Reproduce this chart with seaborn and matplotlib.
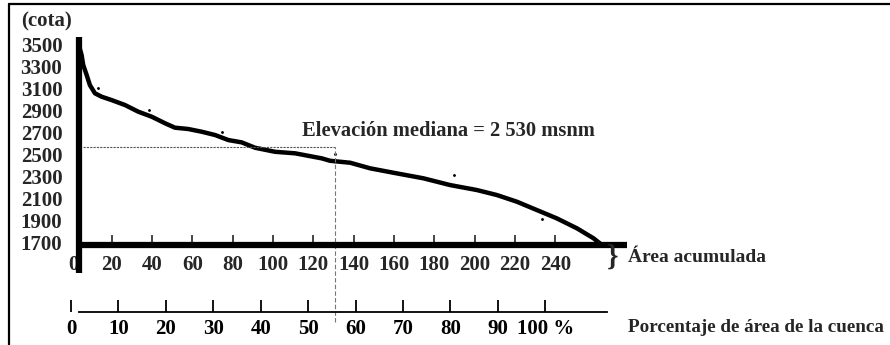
import pandas as pd
import seaborn as sns
import matplotlib.pyplot as plt
from matplotlib.lines import Line2D

# Hypsometric curve: accumulated area vs elevation (cota)
area_acum = [4.3, 5.1, 5.9, 7.6, 9.2, 11.7, 15.0, 20.0, 26.6, 33.2, 39.9, 46.5, 51.4,
             58.0, 64.7, 71.3, 77.9, 84.5, 91.1, 101.0, 111.0, 124.2, 128.3, 138.3,
             148.2, 161.4, 174.6, 187.9, 201.1, 211.1, 221.0, 230.9, 240.8, 250.8,
             259.0, 263.2]
cota = [3460, 3407, 3316, 3225, 3133, 3058, 3027, 2996, 2951, 2890, 2844, 2784, 2744,
        2732, 2707, 2677, 2631, 2610, 2561, 2524, 2510, 2464, 2442, 2424,
        2373, 2327, 2282, 2220, 2175, 2129, 2068, 1992, 1916, 1825,
        1734, 1673]

# loose dots in the scanned figure
dots_area = [13.3, 38.5, 74.6, 130.8, 190.0, 233.4]
dots_cota = [3109, 2905, 2707, 2508, 2312, 1910]

median_area = 130.8
median_cota = 2570

cota_ticks = [1700, 1900, 2100, 2300, 2500, 2700, 2900, 3100, 3300, 3500]
area_ticks = [20, 40, 60, 80, 100, 120, 140, 160, 180, 200, 220, 240]
pct_ticks = [0, 10, 20, 30, 40, 50, 60, 70, 80, 90, 100]
pct_labels = ["0", "10", "20", "30", "40", "50", "60", "70", "80", "90", "100 %"]

df = pd.DataFrame({"area": area_acum, "cota": cota})
dots = pd.DataFrame({"area": dots_area, "cota": dots_cota})

sns.set_theme(style="white")
plt.rcParams["font.family"] = ["Liberation Serif", "DejaVu Serif"]
plt.rcParams["font.weight"] = "bold"

fig = plt.figure(figsize=(8.9, 3.45), dpi=100)
ax = fig.add_axes([79 / 890, 100 / 345, 548 / 890, 208 / 345])

sns.lineplot(data=df, x="area", y="cota", color="black", linewidth=3.2, ax=ax)
sns.scatterplot(data=dots, x="area", y="cota", color="black", s=5, ax=ax)

ax.set_xlim(3.8, 275.6)
ax.set_ylim(1673, 3572)
ax.set_xlabel("")
ax.set_ylabel("")
for s in ["top", "right"]:
    ax.spines[s].set_visible(False)
for s in ["left", "bottom"]:
    ax.spines[s].set_linewidth(4.5)
    ax.spines[s].set_color("black")
    ax.spines[s].set_capstyle("butt")

ax.set_yticks(cota_ticks)
ax.set_yticklabels([str(c) for c in cota_ticks], fontsize=15, fontweight="bold")
ax.tick_params(axis="y", length=0, pad=12)
ax.set_xticks(area_ticks)
ax.set_xticklabels([str(a) for a in area_ticks], fontsize=15, fontweight="bold")
ax.tick_params(axis="x", bottom=True, direction="in", length=7, width=1.2, pad=7)
tick_cols = ["#2a4aa8", "#2a4aa8", "#b8233c", "#d49a2c", "#b8233c", "#2a4aa8",
             "#d49a2c", "#b8233c", "#d49a2c", "#333333", "#2a4aa8", "#d49a2c"]
for t, c in zip(ax.xaxis.get_major_ticks(), tick_cols):
    t.tick1line.set_color(c)

# "0" sits half under the thick y axis
ax.text(0.8, 1673 - 95, "0", ha="center", va="top", fontsize=15, fontweight="bold",
        clip_on=False, zorder=1)
# y axis runs a bit below the x axis
ax.plot([0, 0], [0, -0.135], transform=ax.transAxes, color="black", lw=4.5,
        clip_on=False, solid_capstyle="butt", zorder=3)

# median lines
ax.plot([5.8, median_area], [median_cota, median_cota], color="#555555", lw=0.8,
        ls=(0, (2, 1)))
ax.axvline(median_area, ymin=-0.37, ymax=(median_cota - 1673) / (3572 - 1673),
           color="#777777", lw=0.8, ls=(0, (4, 2)), clip_on=False)
ax.text(114.4, 2713, "Elevación mediana = 2 530 msnm", ha="left", va="center",
        fontsize=14.8, fontweight="bold")
ax.text(268.5, 1565, "}", ha="center", va="center", fontsize=21, fontweight="bold",
        clip_on=False)

# percentage axis
ax2 = fig.add_axes([71 / 890, 33 / 345, 536 / 890, 0.001])
ax2.set_xlim(0, 113)
ax2.set_ylim(0, 1)
for s in ["top", "right", "left"]:
    ax2.spines[s].set_visible(False)
ax2.spines["bottom"].set_linewidth(1.3)
ax2.spines["bottom"].set_color("black")
ax2.spines["bottom"].set_bounds(1.7, 113)
ax2.set_yticks([])
ax2.set_xticks(pct_ticks)
ax2.set_xticklabels(pct_labels, fontsize=15, fontweight="bold")
ax2.tick_params(axis="x", bottom=True, direction="in", length=9, width=1.3,
                pad=5, colors="black")
ax2.patch.set_alpha(0)

fig.text(628 / 890, 1 - 257 / 345, "Área acumulada", ha="left", va="center",
         fontsize=14, fontweight="bold")
fig.text(628 / 890, 1 - 327 / 345, "Porcentaje de área de la cuenca", ha="left",
         va="center", fontsize=13.8, fontweight="bold")
fig.text(47 / 890, 1 - 21 / 345, "(cota)", ha="center", va="center",
         fontsize=15, fontweight="bold")

# frame of the scanned figure
fig.add_artist(Line2D([9 / 890, 1], [1 - 4 / 345, 1 - 4 / 345], color="black", lw=1.6))
fig.add_artist(Line2D([9 / 890, 9 / 890], [0, 1 - 4 / 345], color="black", lw=1.6))

fig.savefig("out.png", dpi=100, facecolor="white")
